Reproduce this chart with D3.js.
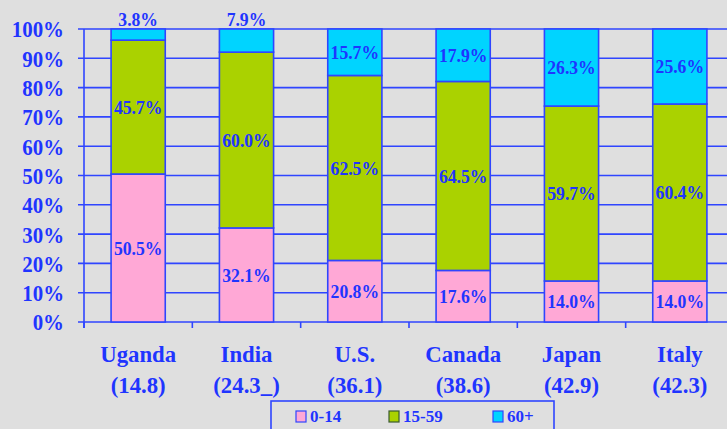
<!DOCTYPE html>
<html>
<head>
<meta charset="utf-8">
<script src="https://cdn.jsdelivr.net/npm/d3@7"></script>
<style>
  body { margin: 0; background: #dfdfdf; }
  svg { display: block; }
  text { font-family: "Liberation Serif", "Times New Roman", serif; font-weight: bold; fill: #1f35ff; }
</style>
</head>
<body>
<script>
// Chart data
var countries = ["Uganda", "India", "U.S.", "Canada", "Japan", "Italy"];
var medianAges = ["(14.8)", "(24.3_)", "(36.1)", "(38.6)", "(42.9)", "(42.3)"];
var age0to14 = [50.5, 32.1, 20.8, 17.6, 14.0, 14.0];
var age15to59 = [45.7, 60.0, 62.5, 64.5, 59.7, 60.4];
var age60plus = [3.8, 7.9, 15.7, 17.9, 26.3, 25.6];
var seriesNames = ["0-14", "15-59", "60+"];
var yTicks = [0, 10, 20, 30, 40, 50, 60, 70, 80, 90, 100];

var colors = ["#ffa8d6", "#aad200", "#00d4ff"],
    lineColor = "#2f45ff",
    width = 727,
    height = 429,
    margin = {top: 29, left: 84, bottom: 107};

var svg = d3.select("body")
            .append("svg")
            .attr("width", width)
            .attr("height", height);

svg.append("rect")
   .attr("width", width)
   .attr("height", height)
   .attr("fill", "#dfdfdf");

// The original font is a bit narrower than Liberation Serif, so squeeze it
function condensed(sel, x, y, sx) {
    sel.attr("transform", function(d, i) {
        var px = typeof x === "function" ? x(d, i) : x,
            py = typeof y === "function" ? y(d, i) : y;
        return "translate(" + px + "," + py + ") scale(" + sx + ",1)";
    });
}

// 100% stacked: each bar is scaled by its own total
var data = countries.map(function(c, i) {
    var v = [age0to14[i], age15to59[i], age60plus[i]];
    return {country: c, age: medianAges[i], v: v, total: d3.sum(v)};
});

var xScale = d3.scaleBand()
               .domain(countries)
               .range([margin.left, margin.left + 650])
               .paddingInner(0.5)
               .paddingOuter(0.25);

var yScale = d3.scaleLinear()
               .domain([0, 100])
               .range([height - margin.bottom, margin.top]);

// Horizontal grid lines
svg.append("g")
   .selectAll("line")
   .data(yTicks)
   .enter()
   .append("line")
   .attr("x1", margin.left - 6)
   .attr("x2", width)
   .attr("y1", function(d) {return yScale(d);})
   .attr("y2", function(d) {return yScale(d);})
   .attr("stroke", lineColor)
   .attr("stroke-width", 1.6);

// Vertical axis line
svg.append("line")
   .attr("x1", margin.left).attr("x2", margin.left)
   .attr("y1", yScale(100)).attr("y2", yScale(0) + 6)
   .attr("stroke", lineColor)
   .attr("stroke-width", 1.6);

// Bottom ticks between categories
var step = xScale.step();
svg.append("g")
   .selectAll("line")
   .data(d3.range(countries.length + 1))
   .enter()
   .append("line")
   .attr("x1", function(i) {return margin.left + i * step;})
   .attr("x2", function(i) {return margin.left + i * step;})
   .attr("y1", yScale(0))
   .attr("y2", yScale(0) + 6)
   .attr("stroke", lineColor)
   .attr("stroke-width", 1.6);

// Y labels
svg.append("g")
   .selectAll("text")
   .data(yTicks)
   .enter()
   .append("text")
   .attr("dy", "0.35em")
   .attr("text-anchor", "end")
   .attr("font-size", 24)
   .text(function(d) {return d + "%";})
   .call(condensed, 64, function(d) {return yScale(d);}, 0.87);

// Stacked bars
var bar = svg.selectAll(".bar")
             .data(data)
             .enter()
             .append("g")
             .attr("class", "bar");

bar.each(function(d) {
    var g = d3.select(this), base = 0;
    d.v.forEach(function(v, k) {
        var top = base + v / d.total * 100;
        g.append("rect")
         .attr("x", xScale(d.country))
         .attr("width", xScale.bandwidth())
         .attr("y", yScale(top))
         .attr("height", yScale(base) - yScale(top))
         .attr("fill", colors[k])
         .attr("stroke", lineColor)
         .attr("stroke-width", 1.6);
        // Small segments get their label above the bar
        var ly = v < 10 ? yScale(100) - 10 : yScale((base + top) / 2);
        g.append("text")
         .attr("dy", "0.35em")
         .attr("text-anchor", "middle")
         .attr("font-size", 19)
         .text(v.toFixed(1) + "%")
         .call(condensed, xScale(d.country) + xScale.bandwidth() / 2, ly, 0.93);
        base = top;
    });
});

// Category labels, two lines each
var cat = svg.append("g")
             .selectAll("g")
             .data(data)
             .enter()
             .append("g");
cat.append("text")
   .attr("text-anchor", "middle")
   .attr("font-size", 24)
   .text(function(d) {return d.country;})
   .call(condensed, function(d) {return xScale(d.country) + xScale.bandwidth() / 2;}, 362, 0.95);
cat.append("text")
   .attr("text-anchor", "middle")
   .attr("font-size", 24)
   .text(function(d) {return d.age;})
   .call(condensed, function(d) {return xScale(d.country) + xScale.bandwidth() / 2;}, 393, 0.95);

// Legend
var legend = svg.append("g");
legend.append("rect")
      .attr("x", 271).attr("y", 401)
      .attr("width", 283).attr("height", 40)
      .attr("fill", "none")
      .attr("stroke", lineColor)
      .attr("stroke-width", 1.6);
var legendX = [296, 389, 493];
seriesNames.forEach(function(name, k) {
    legend.append("rect")
          .attr("x", legendX[k]).attr("y", 411)
          .attr("width", 10).attr("height", 11)
          .attr("fill", colors[k])
          .attr("stroke", k === 1 ? "#3a5a30" : lineColor)
          .attr("stroke-width", 1.2);
    legend.append("text")
          .attr("x", legendX[k] + 14)
          .attr("y", 422)
          .attr("font-size", 17)
          .text(name);
});
</script>
</body>
</html>
